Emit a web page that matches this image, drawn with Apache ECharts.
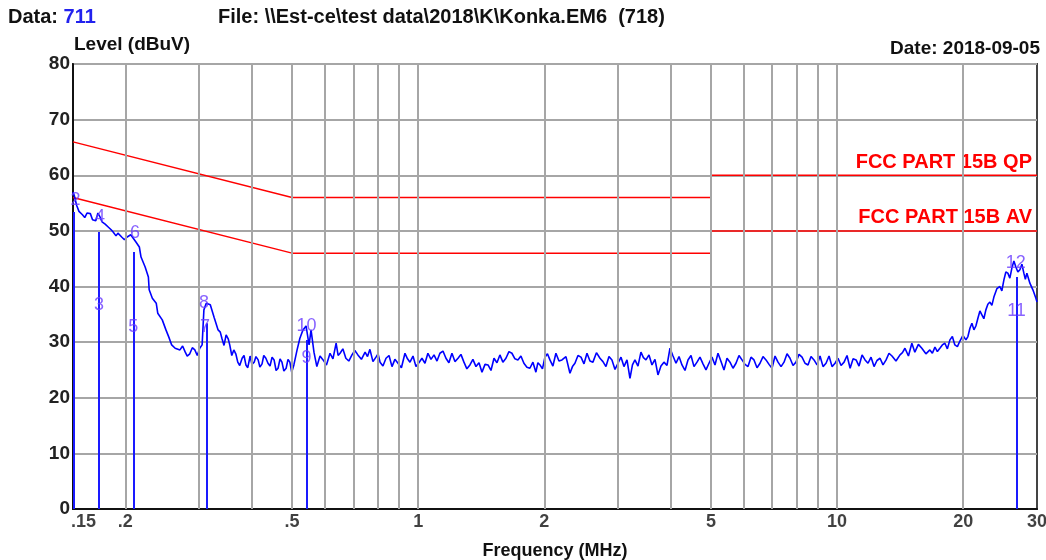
<!DOCTYPE html>
<html>
<head>
<meta charset="utf-8">
<script src="https://cdn.jsdelivr.net/npm/echarts@6/dist/echarts.min.js"></script>
<style>
  html, body { margin: 0; padding: 0; background: #fff; }
  #main { width: 1046px; height: 560px; }
</style>
</head>
<body>
<div id="main"></div>
<script>
// scan trace, [MHz, dBuV]
const trace = [
  [0.150,57.0],[0.151,56.4],[0.153,54.6],[0.158,52.9],[0.162,53.2],[0.167,52.0],[0.172,53.2],[0.176,51.6],
  [0.182,50.7],[0.187,49.8],[0.192,49.6],[0.196,48.9],[0.202,48.9],[0.206,49.3],[0.212,48.0],[0.216,47.1],
  [0.218,45.3],[0.223,43.5],[0.227,41.7],[0.228,39.4],[0.232,37.9],[0.237,37.0],[0.239,35.2],[0.245,34.0],
  [0.250,32.2],[0.254,30.9],[0.258,29.5],[0.263,28.9],[0.270,28.6],[0.278,28.2],[0.285,27.9],[0.293,28.6],
  [0.301,28.9],[0.305,29.5],[0.308,35.8],[0.312,37.0],[0.319,36.7],[0.326,34.4],[0.333,32.2],[0.340,30.7],
  [0.348,31.3],[0.355,29.5],[0.363,28.6],[0.371,26.4],[0.380,27.1],[0.388,25.9],[0.397,27.5],[0.406,26.4],
  [0.415,26.8],[0.424,26.1],[0.433,27.1],[0.443,25.7],[0.453,26.8],[0.463,25.3],[0.473,26.4],[0.484,25.3],
  [0.494,26.4],[0.505,25.9],[0.514,28.6],[0.522,30.7],[0.531,32.2],[0.540,32.9],[0.549,29.5],[0.555,32.2],
  [0.564,28.2],[0.573,25.6],[0.593,26.8],[0.616,28.0],[0.637,29.8],[0.651,28.0],[0.672,27.1],[0.695,27.7],
  [0.718,27.7],[0.747,28.2],[0.767,28.7],[0.793,27.3],[0.811,26.4],[0.838,27.1],[0.866,25.6],[0.895,26.2],
  [0.930,28.0],[0.956,26.4],[0.988,25.6],[1.021,27.1],[1.055,28.0],[1.091,27.7],[1.127,28.0],[1.165,27.1],
  [1.204,28.0],[1.245,27.1],[1.286,26.4],[1.329,25.9],[1.374,25.6],[1.420,24.6],[1.468,25.9],[1.517,27.1],
  [1.567,27.7],[1.620,27.1],[1.674,28.0],[1.730,26.8],[1.788,26.2],[1.848,25.3],[1.910,24.6],[1.953,25.9],
  [2.007,27.3],[2.063,26.8],[2.132,28.0],[2.204,26.8],[2.303,24.4],[2.367,26.2],[2.447,27.3],[2.529,28.0],
  [2.613,26.4],[2.716,27.1],[2.807,25.6],[2.901,26.8],[2.999,26.2],[3.099,25.6],[3.203,23.5],[3.292,26.8],
  [3.402,28.2],[3.497,26.8],[3.615,25.9],[3.736,24.1],[3.861,26.4],[3.991,28.9],[4.125,26.2],[4.263,25.9],
  [4.406,26.8],[4.554,25.6],[4.706,27.3],[4.864,25.0],[5.027,27.3],[5.196,28.0],[5.370,25.0],[5.550,26.4],
  [5.736,26.2],[5.929,26.8],[6.128,25.6],[6.333,26.8],[6.546,26.2],[6.765,26.8],[6.992,25.3],[7.227,26.4],
  [7.469,26.4],[7.719,27.1],[7.978,26.4],[8.246,27.3],[8.522,25.9],[8.808,26.8],[9.104,27.5],[9.409,26.2],
  [9.725,25.6],[10.05,27.1],[10.39,26.4],[10.74,25.3],[11.10,26.8],[11.47,27.7],[11.85,26.2],[12.25,25.6],
  [12.66,27.1],[13.09,26.8],[13.52,27.5],[14.13,27.7],[14.52,28.9],[15.08,29.8],[15.33,28.2],[15.93,28.9],
  [16.65,28.6],[17.12,29.1],[17.59,28.9],[18.08,29.8],[18.59,30.4],[19.10,29.5],[19.64,30.2],[20.30,30.4],
  [20.75,32.5],[21.21,32.2],[21.68,34.3],[22.16,34.9],[22.65,35.8],[23.16,37.2],[23.67,38.1],[24.46,40.0],
  [25.01,41.2],[25.56,42.4],[26.13,43.3],[26.71,43.5],[27.31,43.0],[27.91,42.4],[28.38,42.4],[28.85,40.6],
  [29.33,39.4],[29.82,37.9],[30.0,37.2]
];

// extra readings of the jitter between the points above
const traceJitter = [
  [0.155,53.5],[0.160,52.4],[0.165,53.1],[0.170,51.8],[0.174,52.5],[0.179,51.2],[0.185,50.2],[0.190,49.1],
  [0.194,49.5],[0.199,48.4],[0.204,48.6],
  [0.274,29.3],[0.281,27.5],[0.289,29.0],[0.297,27.6],
  [0.337,31.8],[0.344,29.4],[0.352,30.6],[0.359,27.6],
  [0.367,27.9],[0.375,25.8],[0.384,27.6],[0.392,25.4],[0.401,26.0],[0.410,27.4],[0.419,25.5],[0.428,27.6],
  [0.438,26.2],[0.448,27.3],[0.458,24.9],[0.468,27.0],[0.478,24.8],[0.489,26.9],[0.499,24.6],
  [0.583,27.5],[0.604,25.9],[0.626,27.0],[0.644,27.6],[0.661,28.8],[0.683,26.6],[0.706,28.5],[0.732,26.9],
  [0.757,27.4],[0.780,26.5],[0.802,27.9],[0.824,25.7],[0.852,27.6],[0.880,26.9],[0.912,25.4],[0.943,27.0],
  [0.972,27.5],[1.004,26.3],[1.038,26.2],[1.073,26.9],[1.109,26.6],[1.146,28.4],[1.184,26.3],[1.224,26.5],
  [1.265,27.8],[1.307,25.2],[1.351,26.9],[1.397,26.3],[1.444,26.0],[1.492,24.9],[1.542,26.3],[1.593,26.4],
  [1.647,28.3],[1.702,27.0],[1.759,27.5],[1.818,25.5],[1.879,26.4],[1.931,26.3],[1.980,25.2],[2.035,27.9],
  [2.097,25.7],[2.168,26.6],[2.253,27.4],[2.335,25.6],[2.407,27.6],[2.488,26.1],[2.571,26.6],[2.664,28.1],
  [2.761,26.5],[2.854,27.4],[2.950,25.1],[3.049,27.3],[3.151,26.8],[3.247,25.9],[3.347,25.7],[3.449,27.2],
  [3.556,27.7],[3.675,26.9],[3.798,25.7],[3.926,25.8],[4.058,27.5],[4.194,27.4],[4.334,24.9],[4.480,27.6],
  [4.630,26.4],[4.785,26.1],[4.945,26.2],[5.111,25.9],[5.283,26.5],[5.460,27.1],[5.643,25.3],[5.832,27.6],
  [6.028,26.0],[6.230,27.3],[6.439,25.4],[6.655,27.4],[6.878,26.0],[7.109,27.5],[7.348,25.6],[7.594,27.9],
  [7.848,25.8],[8.111,27.8],[8.383,26.2],[8.665,27.4],[8.955,25.9],[9.256,25.6],[9.566,27.5],[9.887,26.2],
  [10.22,25.8],[10.56,27.6],[10.92,27.0],[11.28,25.7],[11.66,26.8],[12.05,27.3],[12.45,26.7],[12.87,25.9],
  [13.30,28.0],[13.82,26.6],[14.32,28.1],[14.80,27.5],[15.63,29.6],[16.29,27.9],[16.88,28.0],[17.35,28.3],
  [17.83,29.5],[18.33,28.8],[18.84,31.0],[19.37,29.2],[19.97,31.2],[20.52,31.0],[20.98,33.4],[21.44,32.9],
  [21.92,35.6],[22.40,34.2],[22.90,36.8],[23.41,36.6],[24.06,39.6],[24.73,39.2],[25.28,42.6],[25.84,41.5],
  [26.42,44.6],[27.01,42.6],[27.61,44.0],[28.14,41.3]
];

// limit lines
const qpFreq = [0.15, 0.5, 5, 5, 30];
const qpLevel = [66, 56, 56, 60, 60];
const avFreq = [0.15, 0.5, 5, 5, 30];
const avLevel = [56, 46, 46, 50, 50];

// marker lines and their numbers
const markerFreq = [0.1505, 0.173, 0.210, 0.312, 0.541, 26.8];
const markerTop = [53.4, 49.8, 46.2, 33.4, 30.4, 41.7];
const markerText = ['2', '3', '4', '5', '6', '7', '8', '9', '10', '11', '12'];
const markerTextFreq = [0.152, 0.173, 0.174, 0.209, 0.211, 0.310, 0.308, 0.541, 0.541, 26.8, 26.7];
const markerTextLevel = [55.5, 36.7, 52.5, 32.7, 49.6, 32.7, 37.0, 27.1, 32.9, 35.6, 44.2];

// axis
const gridFreq = [0.2, 0.3, 0.4, 0.5, 0.6, 0.7, 0.8, 0.9, 1, 2, 3, 4, 5, 6, 7, 8, 9, 10, 20];
const xTickFreq = [0.15, 0.2, 0.5, 1, 2, 5, 10, 20, 30];
const xTickText = ['.15', '.2', '.5', '1', '2', '5', '10', '20', '30'];

const FONT = '"Liberation Sans", Arial, sans-serif';
const markColor = '#6a3cff';

const scan = trace.concat(traceJitter).sort((a, b) => a[0] - b[0]);

let myChart = echarts.init(document.getElementById('main'));
myChart.setOption({
  animation: false,
  backgroundColor: '#fff',
  textStyle: { fontFamily: FONT },
  grid: {
    left: 73, right: 9, top: 64, bottom: 51,
    show: true, borderColor: '#444', borderWidth: 2,
    outerBoundsMode: 'none'
  },
  graphic: [
    {
      type: 'text', left: 8, top: 7,
      style: {
        text: '{a|Data: }{b|711}',
        rich: {
          a: { fontFamily: FONT, fontSize: 20, fontWeight: 'bold', fill: '#111' },
          b: { fontFamily: FONT, fontSize: 20, fontWeight: 'bold', fill: '#2222ee' }
        }
      }
    },
    {
      type: 'text', left: 218, top: 7,
      style: { text: 'File: \\\\Est-ce\\test data\\2018\\K\\Konka.EM6  (718)', fontFamily: FONT, fontSize: 20, fontWeight: 'bold', fill: '#111' }
    },
    {
      type: 'text', right: 6, top: 39,
      style: { text: 'Date: 2018-09-05', fontFamily: FONT, fontSize: 19, fontWeight: 'bold', fill: '#111' }
    }
  ],
  xAxis: {
    type: 'log',
    logBase: 10,
    min: 0.15,
    max: 30,
    name: 'Frequency (MHz)',
    nameLocation: 'middle',
    nameGap: 33,
    nameTextStyle: { fontSize: 18, fontWeight: 'bold', color: '#111' },
    axisLine: { show: true, lineStyle: { color: '#111', width: 2 } },
    axisTick: { show: false },
    axisLabel: { show: false },
    splitLine: { show: false },
    minorTick: { show: false },
    minorSplitLine: { show: false }
  },
  yAxis: {
    type: 'value',
    min: 0,
    max: 80,
    interval: 10,
    name: 'Level (dBuV)',
    nameLocation: 'end',
    nameGap: -1,
    nameTextStyle: { fontSize: 19, fontWeight: 'bold', color: '#111', align: 'left', padding: [0, 0, 0, 1] },
    axisLine: { show: true, lineStyle: { color: '#111', width: 2 } },
    axisTick: { show: false },
    axisLabel: { fontSize: 19, fontWeight: 'bold', color: '#222', margin: 3 },
    splitLine: { show: true, lineStyle: { color: '#a6a6a6', width: 2 } }
  },
  series: [
    {
      // vertical grid lines
      name: 'grid',
      type: 'line',
      data: [],
      z: 1,
      markLine: {
        silent: true,
        symbol: 'none',
        animation: false,
        label: { show: false },
        lineStyle: { color: '#a6a6a6', width: 2, type: 'solid' },
        data: gridFreq.map(f => ({ xAxis: f }))
      }
    },
    {
      name: 'FCC PART 15B QP',
      type: 'line',
      z: 3,
      showSymbol: true,
      symbolSize: 0,
      lineStyle: { color: '#ff0000', width: 1.5 },
      itemStyle: { color: '#ff0000' },
      data: qpFreq.map((f, i) => i === qpFreq.length - 1 ? {
        value: [f, qpLevel[i]],
        label: { show: true, position: 'top', align: 'right', distance: 3, offset: [-5, 0],
          formatter: 'FCC PART 15B QP', color: '#ff0000', fontSize: 20, fontWeight: 'bold', fontFamily: FONT }
      } : [f, qpLevel[i]])
    },
    {
      name: 'FCC PART 15B AV',
      type: 'line',
      z: 3,
      showSymbol: true,
      symbolSize: 0,
      lineStyle: { color: '#ff0000', width: 1.5 },
      itemStyle: { color: '#ff0000' },
      data: avFreq.map((f, i) => i === avFreq.length - 1 ? {
        value: [f, avLevel[i]],
        label: { show: true, position: 'top', align: 'right', distance: 3, offset: [-5, 0],
          formatter: 'FCC PART 15B AV', color: '#ff0000', fontSize: 20, fontWeight: 'bold', fontFamily: FONT }
      } : [f, avLevel[i]])
    },
    {
      name: 'scan',
      type: 'line',
      z: 4,
      showSymbol: false,
      lineStyle: { color: '#0000ff', width: 1.6 },
      data: scan
    },
    {
      // marker lines
      name: 'markers',
      type: 'line',
      data: [],
      z: 5,
      markLine: {
        silent: true,
        symbol: 'none',
        animation: false,
        label: { show: false },
        lineStyle: { color: '#1a1aff', width: 2, type: 'solid' },
        data: markerFreq.map((f, i) => [{ coord: [f, 0] }, { coord: [f, markerTop[i]] }])
      }
    },
    {
      name: 'marker numbers',
      type: 'scatter',
      z: 6,
      symbolSize: 1,
      itemStyle: { color: 'rgba(0,0,0,0)' },
      label: {
        show: true, position: 'inside', color: markColor, fontSize: 18, fontFamily: FONT,
        formatter: p => markerText[p.dataIndex]
      },
      data: markerTextFreq.map((f, i) => [f, markerTextLevel[i]])
    },
    {
      name: 'x ticks',
      type: 'scatter',
      z: 6,
      symbolSize: 1,
      itemStyle: { color: 'rgba(0,0,0,0)' },
      label: {
        show: true, position: 'bottom', distance: 4, color: '#111', fontSize: 18, fontWeight: 'bold', fontFamily: FONT,
        formatter: p => xTickText[p.dataIndex]
      },
      data: xTickFreq.map((f, i) => i === 0 ? { value: [f, 0], label: { align: 'left', offset: [-2, 0] } } : [f, 0])
    }
  ]
});
</script>
</body>
</html>
